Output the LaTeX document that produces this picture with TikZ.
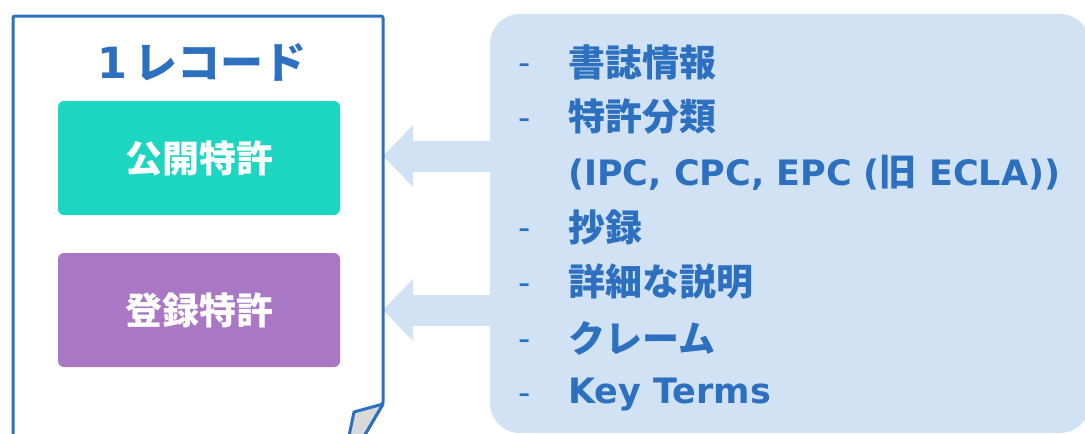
\documentclass[tikz,border=0pt]{standalone}
\usepackage{fontspec}
\setmainfont{Noto Sans CJK JP}
\newfontfamily\latinfont{DejaVu Sans}
\usetikzlibrary{arrows.meta}

\definecolor{docblue}{RGB}{46,112,192}
\definecolor{pubteal}{RGB}{29,214,193}
\definecolor{grantpurple}{RGB}{170,119,196}
\definecolor{panelblue}{RGB}{208,226,244}
\definecolor{foldgrey}{RGB}{217,217,217}

\tikzset{
  catbox/.style={rounded corners=6pt, minimum width=282pt, minimum height=114pt,
    text=white, font=\fontsize{37}{37}\selectfont\bfseries},
  bigarrow/.style={draw=panelblue, line width=31pt,
    -{Triangle[length=30pt,width=62pt,line width=0pt]}},
  docline/.style={draw=docblue, line width=3pt, line join=round},
  dashmark/.style={font=\fontsize{34}{34}\latinfont}
}

\begin{document}
\begin{tikzpicture}[x=1pt,y=-1pt]

        \useasboundingbox (0,0) rectangle (1085,434);
        \clip (0,0) rectangle (1085,434);

        % right panel
        \node[fill=panelblue, rounded corners=30pt, minimum width=600pt,
          minimum height=419pt, inner sep=0pt] (panel) at (790,223.5) {};

        % the record
        \node[text=docblue, font=\fontsize{43}{43}\selectfont\bfseries] (title) at (202,62)
          {{\latinfont 1}\hspace{8pt}レコード};
        \node[catbox, fill=pubteal]     (pub)   at (199,158) {公開特許};
        \node[catbox, fill=grantpurple] (grant) at (199,310) {登録特許};

        \coordinate (tip1) at (383,156);
        \coordinate (tip2) at (383,310);

        \draw[bigarrow] (panel.west |- tip1) -- (tip1);
        \draw[bigarrow] (panel.west |- tip2) -- (tip2);

        % sheet with folded corner
        \draw[docline, rounded corners=2pt] (13,460) -- (13,16) -- (383,16) -- (383,404) -- (350,460);
        \filldraw[docline, fill=foldgrey] (383,404) -- (354,412) -- (344,460) -- (350,460) -- cycle;

        \begin{scope}[every node/.style={anchor=west, inner sep=0pt, text=docblue,
            font=\fontsize{37}{37}\selectfont\bfseries}]
          \node[dashmark] (d1) at (518,69)  {-};
          \node[dashmark] (d2) at (518,124) {-};
          \node[dashmark] (d4) at (518,234) {-};
          \node[dashmark] (d5) at (518,289) {-};
          \node[dashmark] (d6) at (518,345) {-};
          \node[dashmark] (d7) at (518,399) {-};
          \node (i1) at (568,62)  {書誌情報};
          \node (i2) at (568,117) {特許分類};
          \node (i3) at (568,173) {{\fontsize{35}{35}\latinfont\bfseries (IPC, CPC, EPC (}旧{\fontsize{35}{35}\latinfont\bfseries{} ECLA))}};
          \node (i4) at (568,227) {抄録};
          \node (i5) at (568,282) {詳細な説明};
          \node (i6) at (568,338) {クレーム};
          \node[font=\fontsize{35}{35}\latinfont\bfseries] (i7) at (568,395) {Key Terms};
        \end{scope}

      \end{tikzpicture}
\end{document}
